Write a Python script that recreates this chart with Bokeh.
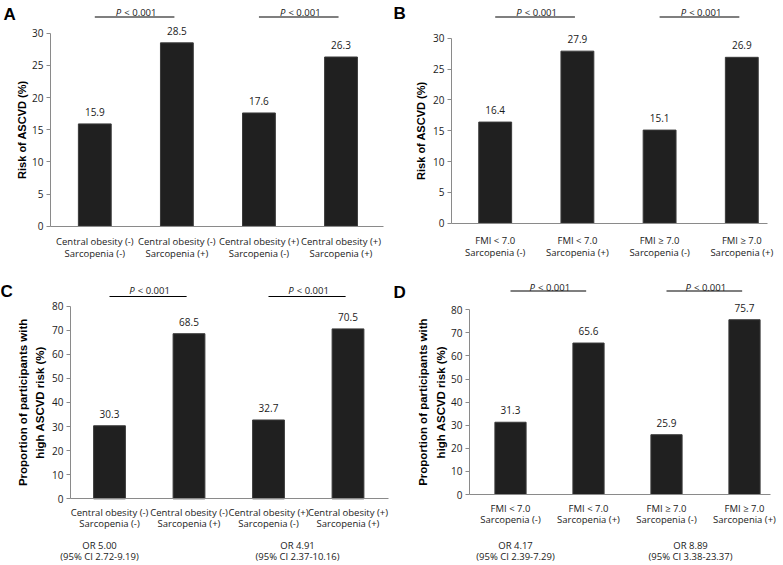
import math
from bokeh.plotting import figure
from bokeh.models import Range1d, FixedTicker, Label
from bokeh.layouts import row, column
from bokeh.core.properties import value
from bokeh.embed import file_html
from bokeh.resources import INLINE

# ---------------- data ----------------
central_labels = ["Central obesity (-)\nSarcopenia (-)", "Central obesity (-)\nSarcopenia (+)",
                  "Central obesity (+)\nSarcopenia (-)", "Central obesity (+)\nSarcopenia (+)"]
fmi_labels = ["FMI < 7.0\nSarcopenia (-)", "FMI < 7.0\nSarcopenia (+)",
              "FMI \u2265 7.0\nSarcopenia (-)", "FMI \u2265 7.0\nSarcopenia (+)"]
risk_central = [15.9, 28.5, 17.6, 26.3]
risk_fmi = [16.4, 27.9, 15.1, 26.9]
high_central = [30.3, 68.5, 32.7, 70.5]
high_fmi = [31.3, 65.6, 25.9, 75.7]
risk_ticks = [0, 5, 10, 15, 20, 25, 30]
prop_ticks = [0, 10, 20, 30, 40, 50, 60, 70, 80]
p_value_text = "< 0.001"
or_central = ["OR 5.00", "OR 4.91"]
ci_central = ["(95% CI 2.72-9.19)", "(95% CI 2.37-10.16)"]
or_fmi = ["OR 4.17", "OR 8.89"]
ci_fmi = ["(95% CI 2.39-7.29)", "(95% CI 3.38-23.37)"]
risk_title = ["Risk of ASCVD (%)"]
prop_title = ["Proportion of participants with", "high ASCVD risk (%)"]

FONT = "Open Sans"
BOLD = "Liberation Sans"
BAR = "#202020"
AXIS = "#8a8a8a"
TXT = "#1a1a1a"


def panel(letter, labels, vals, ticks, title_lines, g, or_txt=None, ci_txt=None):
    ox, oy, w, h = g["box"]
    ax, ae, b0, bt = g["axis"]
    sx, c0 = g["sx"], g["c0"]
    sy = (b0 - bt) / ticks[-1]
    x_start = 0.5 - (c0 - ox) / sx
    x_end = x_start + w / sx
    y_start = -(oy + h - b0) / sy
    y_end = (b0 - oy) / sy

    def X(px):
        return x_start + (px - ox) / sx

    def Y(py):
        return (b0 - py) / sy

    p = figure(width=w, height=h, x_range=Range1d(x_start, x_end), y_range=Range1d(y_start, y_end),
               output_backend="svg", toolbar_location=None,
               min_border_left=0, min_border_right=0, min_border_top=0, min_border_bottom=0)
    p.outline_line_color = None
    p.grid.visible = False
    p.background_fill_color = "white"
    p.border_fill_color = "white"

    xs = [i + 0.5 for i in range(len(vals))]
    p.vbar(x=xs, top=vals, width=0.4, bottom=0, fill_color=BAR, line_color="#3a3a3a", line_width=1)

    # y axis
    ya = p.yaxis[0]
    ya.fixed_location = X(ax)
    ya.ticker = FixedTicker(ticks=ticks)
    ya.bounds = (0, ticks[-1])
    ya.major_tick_out = 4
    ya.major_tick_in = 0
    ya.minor_tick_line_color = None
    ya.axis_line_color = AXIS
    ya.major_tick_line_color = AXIS
    ya.major_label_text_font = FONT
    ya.major_label_text_font_size = "10px"
    ya.major_label_text_color = TXT
    ya.major_label_standoff = 3

    # x axis
    xa = p.xaxis[0]
    xa.fixed_location = 0
    xa.bounds = (X(ax), X(ae))
    xa.ticker = FixedTicker(ticks=xs)
    xa.major_label_overrides = {x: lab for x, lab in zip(xs, labels)}
    xa.major_tick_line_color = None
    xa.minor_tick_line_color = None
    xa.axis_line_color = AXIS
    xa.major_label_text_font = FONT
    xa.major_label_text_font_size = "9.5px"
    xa.major_label_text_line_height = 0.88
    xa.major_label_text_color = TXT
    xa.major_label_standoff = g["standoff"]

    # value labels
    p.text(x=xs, y=vals, text=[f"{v:.1f}" for v in vals], text_align="center",
           text_baseline="bottom", y_offset=-8, text_font=value(FONT),
           text_font_size="10px", text_color=TXT)

    # significance brackets
    py_line = Y(g["pline"])
    p.segment(x0=[xs[0], xs[2]], y0=[py_line, py_line], x1=[xs[1] - 0.03, xs[3] - 0.03],
              y1=[py_line, py_line], line_color="black", line_width=1.2)
    mids = [(xs[0] + xs[1]) / 2, (xs[2] + xs[3]) / 2]
    py_txt = Y(g["ptext"])
    p.text(x=mids, y=[py_txt, py_txt], text=["P", "P"], text_align="left",
           text_baseline="alphabetic", x_offset=-20, text_font=value(FONT),
           text_font_style="italic", text_font_size="9.5px", text_color=TXT)
    p.text(x=mids, y=[py_txt, py_txt], text=[p_value_text] * 2, text_align="left",
           text_baseline="alphabetic", x_offset=-11.5, text_font=value(FONT),
           text_font_size="9.5px", text_color=TXT)

    # panel letter
    lx, ly = g["letter"]
    p.add_layout(Label(x=X(lx), y=Y(ly), text=letter, text_align="left", text_baseline="top",
                       text_font=BOLD, text_font_style="bold", text_font_size="17px",
                       text_color="black"))

    # y title
    ymid = ticks[-1] / 2
    for tl, tx in zip(title_lines, g["title_x"]):
        p.add_layout(Label(x=X(tx), y=ymid, text=tl, angle=math.pi / 2, text_align="center",
                           text_baseline="middle", text_font=BOLD, text_font_style="bold",
                           text_font_size=g["title_size"], text_color="black"))

    # odds ratio notes
    if or_txt is not None:
        for k in range(2):
            cx = g["or_x"][k]
            p.add_layout(Label(x=X(cx), y=Y(g["or_y"][0]), text=or_txt[k], text_align="center",
                               text_baseline="middle", text_font=FONT, text_font_size="9.5px",
                               text_color=TXT))
            p.add_layout(Label(x=X(cx), y=Y(g["or_y"][1]), text=ci_txt[k], text_align="center",
                               text_baseline="middle", text_font=FONT, text_font_size="9.5px",
                               text_color=TXT))
    return p


gA = dict(box=(0, 0, 390, 279), axis=(50, 383, 225.7, 32.7), sx=82.07, c0=94.3,
          standoff=3, pline=16.5, ptext=12, letter=(3, 4), title_x=[21], title_size="11px")
gB = dict(box=(390, 0, 393, 279), axis=(451, 767, 222.7, 37.7), sx=82.2, c0=494.7,
          standoff=5, pline=16.5, ptext=11.5, letter=(393, 3), title_x=[420], title_size="11px")
gC = dict(box=(0, 279, 390, 286), axis=(70, 388, 498.3, 305.5), sx=79.5, c0=109,
          standoff=1, pline=296, ptext=290, letter=(0, 281), title_x=[22, 39], title_size="11.5px",
          or_x=[99, 297], or_y=[545, 556])
gD = dict(box=(390, 279, 393, 286), axis=(469, 770, 494, 309.3), sx=78, c0=510,
          standoff=1, pline=290.5, ptext=286.5, letter=(393, 282), title_x=[422, 440], title_size="11.5px",
          or_x=[515, 690], or_y=[545, 556])

pA = panel("A", central_labels, risk_central, risk_ticks, risk_title, gA)
pB = panel("B", fmi_labels, risk_fmi, risk_ticks, risk_title, gB)
pC = panel("C", central_labels, high_central, prop_ticks, prop_title, gC, or_central, ci_central)
pD = panel("D", fmi_labels, high_fmi, prop_ticks, prop_title, gD, or_fmi, ci_fmi)

layout = column(row(pA, pB), row(pC, pD))
open("out.html", "w").write(file_html(layout, INLINE))
